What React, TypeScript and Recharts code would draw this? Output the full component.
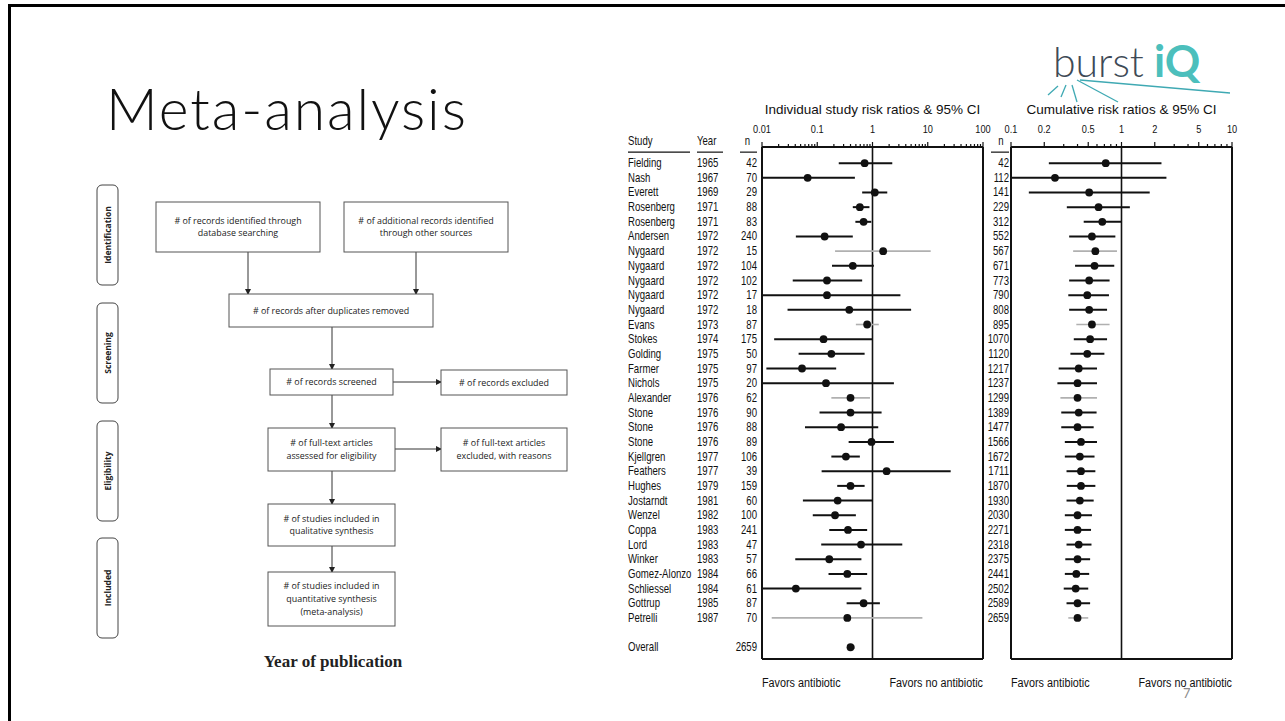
import React from 'react';
import { ScatterChart, Scatter, XAxis, YAxis, ErrorBar, ReferenceLine, Label } from 'recharts';

// individual trials, in order of publication
const studies = [
  'Fielding', 'Nash', 'Everett', 'Rosenberg', 'Rosenberg', 'Andersen', 'Nygaard', 'Nygaard',
  'Nygaard', 'Nygaard', 'Nygaard', 'Evans', 'Stokes', 'Golding', 'Farmer', 'Nichols',
  'Alexander', 'Stone', 'Stone', 'Stone', 'Kjellgren', 'Feathers', 'Hughes', 'Jostarndt',
  'Wenzel', 'Coppa', 'Lord', 'Winker', 'Gomez-Alonzo', 'Schliessel', 'Gottrup', 'Petrelli',
];
const years = [
  1965, 1967, 1969, 1971, 1971, 1972, 1972, 1972, 1972, 1972, 1972, 1973, 1974, 1975, 1975, 1975,
  1976, 1976, 1976, 1976, 1977, 1977, 1979, 1981, 1982, 1983, 1983, 1983, 1984, 1984, 1985, 1987,
];
const sizes = [
  42, 70, 29, 88, 83, 240, 15, 104, 102, 17, 18, 87, 175, 50, 97, 20,
  62, 90, 88, 89, 106, 39, 159, 60, 100, 241, 47, 57, 66, 61, 87, 70,
];
const rr = [
  0.72, 0.067, 1.1, 0.59, 0.69, 0.136, 1.56, 0.44, 0.15, 0.15, 0.38, 0.8, 0.13, 0.18, 0.053, 0.144,
  0.4, 0.4, 0.27, 0.96, 0.33, 1.8, 0.4, 0.234, 0.21, 0.36, 0.62, 0.165, 0.35, 0.041, 0.69, 0.35,
];
const rrLow = [
  0.245, 0.01, 0.65, 0.44, 0.49, 0.041, 0.21, 0.185, 0.036, 0.01, 0.029, 0.5, 0.0166, 0.046, 0.012, 0.01,
  0.18, 0.11, 0.06, 0.37, 0.18, 0.12, 0.23, 0.055, 0.083, 0.165, 0.118, 0.04, 0.16, 0.01, 0.34, 0.015,
];
const rrHigh = [
  2.28, 0.48, 1.85, 0.88, 0.95, 0.44, 11.3, 1.06, 0.65, 3.2, 5.0, 1.3, 1.0, 0.72, 0.22, 2.44,
  0.9, 1.46, 1.27, 2.44, 0.59, 26, 0.72, 1.0, 0.5, 0.8, 3.46, 0.63, 0.8, 0.63, 1.36, 8.0,
];

// cumulative meta-analysis after each trial
const cumN = [
  42, 112, 141, 229, 312, 552, 567, 671, 773, 790, 808, 895, 1070, 1120, 1217, 1237,
  1299, 1389, 1477, 1566, 1672, 1711, 1870, 1930, 2030, 2271, 2318, 2375, 2441, 2502, 2589, 2659,
];
const cumRR = [
  0.72, 0.25, 0.51, 0.62, 0.67, 0.54, 0.58, 0.57, 0.51, 0.49, 0.51, 0.54, 0.52, 0.49, 0.41, 0.4,
  0.4, 0.41, 0.4, 0.43, 0.42, 0.43, 0.43, 0.42, 0.4, 0.4, 0.41, 0.4, 0.39, 0.385, 0.4, 0.4,
];
const cumLow = [
  0.22, 0.1, 0.145, 0.32, 0.455, 0.336, 0.365, 0.38, 0.336, 0.33, 0.336, 0.39, 0.37, 0.345, 0.27, 0.263,
  0.28, 0.285, 0.285, 0.307, 0.307, 0.318, 0.32, 0.318, 0.307, 0.307, 0.318, 0.31, 0.307, 0.3, 0.318, 0.33,
];
const cumHigh = [
  2.3, 2.55, 1.8, 1.19, 1.0, 0.88, 0.91, 0.86, 0.78, 0.77, 0.74, 0.78, 0.74, 0.7, 0.6, 0.6,
  0.6, 0.595, 0.56, 0.6, 0.57, 0.58, 0.58, 0.56, 0.54, 0.53, 0.535, 0.52, 0.51, 0.5, 0.52, 0.5,
];

const overallN = 2659;
const overallRR = 0.4;
const overallLow = 0.35;
const overallHigh = 0.47;
const overallRow = 33;

// rows printed in grey in the original figure
const lightRows = [6, 11, 16, 31];

const leftLabels = [0.01, 0.1, 1, 10, 100];
const leftTicks = [
  0.01, 0.02, 0.03, 0.04, 0.05, 0.06, 0.07, 0.08, 0.09,
  0.1, 0.2, 0.3, 0.4, 0.5, 0.6, 0.7, 0.8, 0.9,
  1, 2, 3, 4, 5, 6, 7, 8, 9,
  10, 20, 30, 40, 50, 60, 70, 80, 90, 100,
];
const rightLabels = [0.1, 0.2, 0.5, 1, 2, 5, 10];
const rightTicks = [0.1, 0.2, 0.3, 0.4, 0.5, 0.6, 0.7, 0.8, 0.9, 1, 2, 3, 4, 5, 6, 7, 8, 9, 10];

const favors = ['Favors antibiotic', 'Favors no antibiotic'];

const FONT = "'Liberation Sans', Arial, sans-serif";
const INK = '#111';

const rowTicks = studies.map((_, i) => i).concat(overallRow);
const cumTicks = studies.map((_, i) => i);

const toRow = (row: number, est: number, lo: number, hi: number) => ({ row, rr: est, err: [est - lo, hi - est] });

const indivRows = studies.map((_, i) => toRow(i, rr[i], rrLow[i], rrHigh[i]));
const cumRows = studies.map((_, i) => toRow(i, cumRR[i], cumLow[i], cumHigh[i]));
const overallRows = [toRow(overallRow, overallRR, overallLow, overallHigh)];

const dark = (rows: any[]) => rows.filter((r) => !lightRows.includes(r.row));
const light = (rows: any[]) => rows.filter((r) => lightRows.includes(r.row));

const dot = (p: any) => <circle cx={p.cx} cy={p.cy} r={3.9} fill={INK} />;

// condensed text, the scan uses a narrow face
const NText = ({ x, y, anchor = 'start', size = 12, children }: any) => (
  <text
    transform={`translate(${x} ${y}) scale(0.8 1)`}
    textAnchor={anchor}
    fontFamily={FONT}
    fontSize={size}
    fill={INK}
  >
    {children}
  </text>
);

const TopTick = ({ x, y, payload, labels }: any) => {
  const major = labels.includes(payload.value);
  return (
    <g>
      <line x1={x} x2={x} y1={y} y2={y - (major ? 5 : 3)} stroke={INK} strokeWidth={1.2} />
      {major && <NText x={x} y={y - 14} anchor="middle" size={11.5}>{String(payload.value)}</NText>}
    </g>
  );
};

const StudyTick = ({ y, payload }: any) => {
  const i = payload.value;
  const isOverall = i === overallRow;
  return (
    <g>
      <NText x={8} y={y + 4}>{isOverall ? 'Overall' : studies[i]}</NText>
      {!isOverall && <NText x={77} y={y + 4}>{years[i]}</NText>}
      <NText x={137} y={y + 4} anchor="end">{isOverall ? overallN : sizes[i]}</NText>
      {i === 0 && (
        <g>
          <NText x={8} y={y - 18}>Study</NText>
          <NText x={77} y={y - 18}>Year</NText>
          <NText x={130} y={y - 18} anchor="end">n</NText>
          <line x1={8} x2={70} y1={y - 11} y2={y - 11} stroke={INK} strokeWidth={1.2} />
          <line x1={77} x2={103} y1={y - 11} y2={y - 11} stroke={INK} strokeWidth={1.2} />
          <line x1={120} x2={137} y1={y - 11} y2={y - 11} stroke={INK} strokeWidth={1.2} />
        </g>
      )}
    </g>
  );
};

const CumTick = ({ y, payload }: any) => {
  const i = payload.value;
  return (
    <g>
      <NText x={25} y={y + 4} anchor="end">{cumN[i]}</NText>
      {i === 0 && (
        <g>
          <NText x={17} y={y - 18} anchor="middle">n</NText>
          <line x1={7} x2={25} y1={y - 11} y2={y - 11} stroke={INK} strokeWidth={1.2} />
        </g>
      )}
    </g>
  );
};

const FavorsLabel = ({ viewBox }: any) => (
  <g>
    <NText x={viewBox.x} y={viewBox.y + 28} size={13.5}>{favors[0]}</NText>
    <NText x={viewBox.x + viewBox.width} y={viewBox.y + 28} anchor="end" size={13.5}>{favors[1]}</NText>
  </g>
);

const frame = { stroke: INK, strokeWidth: 2 };

function Forest({ rows, extra, ticks, labels, domain, title, yWidth, width, right, tick }: any) {
  return (
    <ScatterChart width={width} height={604} margin={{ top: 32, right, bottom: 10, left: 0 }}>
      <XAxis
        xAxisId="top"
        orientation="top"
        type="number"
        dataKey="rr"
        scale="log"
        domain={domain}
        allowDataOverflow
        ticks={ticks}
        interval={0}
        tickLine={false}
        tickSize={0}
        tickMargin={0}
        tick={<TopTick labels={labels} />}
        axisLine={frame}
        height={20}
      >
        <Label value={title} position="top" offset={13} fontFamily={FONT} fontSize={13.5} fill={INK} />
      </XAxis>
      <XAxis
        xAxisId="bottom"
        orientation="bottom"
        type="number"
        scale="log"
        domain={domain}
        allowDataOverflow
        tick={false}
        tickLine={false}
        axisLine={frame}
        height={30}
      >
        <Label content={<FavorsLabel />} />
      </XAxis>
      <YAxis
        yAxisId="rows"
        type="number"
        dataKey="row"
        domain={[-1.1, 33.8]}
        reversed
        allowDataOverflow
        ticks={tick === 'study' ? rowTicks : cumTicks}
        interval={0}
        tickLine={false}
        tick={tick === 'study' ? <StudyTick /> : <CumTick />}
        axisLine={frame}
        width={yWidth}
      />
      <ReferenceLine xAxisId="top" yAxisId="rows" x={1} stroke={INK} strokeWidth={1.6} />
      <ReferenceLine xAxisId="top" yAxisId="rows" x={domain[1]} stroke={INK} strokeWidth={2} />
      <Scatter xAxisId="top" yAxisId="rows" data={light(rows)} shape={dot} isAnimationActive={false}>
        <ErrorBar dataKey="err" direction="x" width={0} stroke="#b0b0b0" strokeWidth={1.6} isAnimationActive={false} />
      </Scatter>
      <Scatter xAxisId="top" yAxisId="rows" data={dark(rows)} shape={dot} isAnimationActive={false}>
        <ErrorBar dataKey="err" direction="x" width={0} stroke={INK} strokeWidth={2} isAnimationActive={false} />
      </Scatter>
      {extra && (
        <Scatter xAxisId="top" yAxisId="rows" data={extra} shape={dot} isAnimationActive={false}>
          <ErrorBar dataKey="err" direction="x" width={0} stroke={INK} strokeWidth={3.4} isAnimationActive={false} />
        </Scatter>
      )}
    </ScatterChart>
  );
}

const boxes = [
  { x: 156, y: 202, w: 164, h: 50, lines: ['# of records identified through', 'database searching'] },
  { x: 344, y: 202, w: 164, h: 50, lines: ['# of additional records identified', 'through other sources'] },
  { x: 229, y: 294, w: 204, h: 33, lines: ['# of records after duplicates removed'] },
  { x: 270, y: 369, w: 123, h: 26, lines: ['# of records screened'] },
  { x: 441, y: 370, w: 126, h: 25, lines: ['# of records excluded'] },
  { x: 268, y: 428, w: 127, h: 43, lines: ['# of full-text articles', 'assessed for eligibility'] },
  { x: 441, y: 428, w: 126, h: 43, lines: ['# of full-text articles', 'excluded, with reasons'] },
  { x: 268, y: 504, w: 127, h: 42, lines: ['# of studies included in', 'qualitative synthesis'] },
  { x: 268, y: 572, w: 127, h: 54, lines: ['# of studies included in', 'quantitative synthesis', '(meta-analysis)'] },
];
const arrows = [
  [248, 252, 248, 294], [416, 252, 416, 294], [332, 327, 332, 369], [393, 382, 441, 382],
  [332, 395, 332, 428], [395, 449, 441, 449], [332, 471, 332, 504], [332, 546, 332, 572],
];
const phases = [
  { label: 'Identification', y: 185 }, { label: 'Screening', y: 303 },
  { label: 'Eligibility', y: 421 }, { label: 'Included', y: 538 },
];

function Slide() {
  const flowFont = "'Open Sans', 'Noto Sans', sans-serif";
  return (
    <svg width={1285} height={721} style={{ position: 'absolute', left: 0, top: 0 }}>
      <rect x={0} y={0} width={1285} height={721} fill="#fff" />
      <path d="M9.5 721 V5.5 H1285" fill="none" stroke="#000" strokeWidth={3} />
      <text x={106} y={130} fontFamily="Lato, 'Open Sans', sans-serif" fontWeight={300} fontSize={57} letterSpacing={1.9} fill="#111">
        Meta-analysis
      </text>

      {/* logo */}
      <text x={1053} y={77} fontFamily="Lato, sans-serif" fontWeight={300} fontSize={41} fill="#3e4a56">burst</text>
      <text x={1154} y={77} fontFamily="Lato, sans-serif" fontWeight={700} fontSize={44} fill="#4cbfbc">iQ</text>
      <g stroke="#3fa9b3" strokeWidth={1.3}>
        <line x1={1048} y1={95} x2={1058} y2={86} />
        <line x1={1061} y1={97} x2={1066} y2={85} />
        <line x1={1077} y1={102} x2={1072} y2={85} />
        <line x1={1077} y1={80} x2={1118} y2={102} />
        <line x1={1080} y1={80} x2={1230} y2={93} />
      </g>

      {/* flow diagram */}
      <defs>
        <marker id="ah" markerWidth={6} markerHeight={6} refX={5} refY={3} orient="auto" markerUnits="userSpaceOnUse">
          <path d="M0 0 L6 3 L0 6 Z" fill="#222" />
        </marker>
      </defs>
      {phases.map((p) => (
        <g key={p.label}>
          <rect x={97} y={p.y} width={21} height={100} rx={5} fill="#fff" stroke="#444" strokeWidth={1} />
          <text
            x={0}
            y={0}
            transform={`translate(111 ${p.y + 50}) rotate(-90)`}
            textAnchor="middle"
            fontFamily={flowFont}
            fontWeight={700}
            fontSize={8.5}
            fill="#222"
          >
            {p.label}
          </text>
        </g>
      ))}
      {arrows.map((a, i) => (
        <line key={i} x1={a[0]} y1={a[1]} x2={a[2]} y2={a[3]} stroke="#333" strokeWidth={1} markerEnd="url(#ah)" />
      ))}
      {boxes.map((b, i) => (
        <g key={i}>
          <rect x={b.x} y={b.y} width={b.w} height={b.h} fill="#fff" stroke="#555" strokeWidth={1} />
          {b.lines.map((l, j) => (
            <text
              key={j}
              x={b.x + b.w / 2}
              y={b.y + b.h / 2 + (j - (b.lines.length - 1) / 2) * 12.6 + 3}
              textAnchor="middle"
              fontFamily={flowFont}
              fontSize={8.9}
              fill="#222"
            >
              {l}
            </text>
          ))}
        </g>
      ))}
      <text x={333} y={667} textAnchor="middle" fontFamily="'Liberation Serif', serif" fontWeight={700} fontSize={17} fill="#222">
        Year of publication
      </text>

      <text x={1183} y={698} fontFamily="Lato, sans-serif" fontSize={13} fill="#8a8a8a">7</text>
    </svg>
  );
}

export default function App() {
  return (
    <div style={{ position: 'absolute', left: 0, top: 0, width: 1285, height: 721, background: '#fff', overflow: 'hidden' }}>
      <Slide />
      <div style={{ position: 'absolute', left: 620, top: 95 }}>
        <Forest
          rows={indivRows}
          extra={overallRows}
          ticks={leftTicks}
          labels={leftLabels}
          domain={[0.01, 100]}
          title="Individual study risk ratios & 95% CI"
          yWidth={142}
          width={375}
          right={12}
          tick="study"
        />
      </div>
      <div style={{ position: 'absolute', left: 984, top: 95 }}>
        <Forest
          rows={cumRows}
          ticks={rightTicks}
          labels={rightLabels}
          domain={[0.1, 10]}
          title="Cumulative risk ratios & 95% CI"
          yWidth={27}
          width={260}
          right={12}
          tick="cum"
        />
      </div>
    </div>
  );
}
